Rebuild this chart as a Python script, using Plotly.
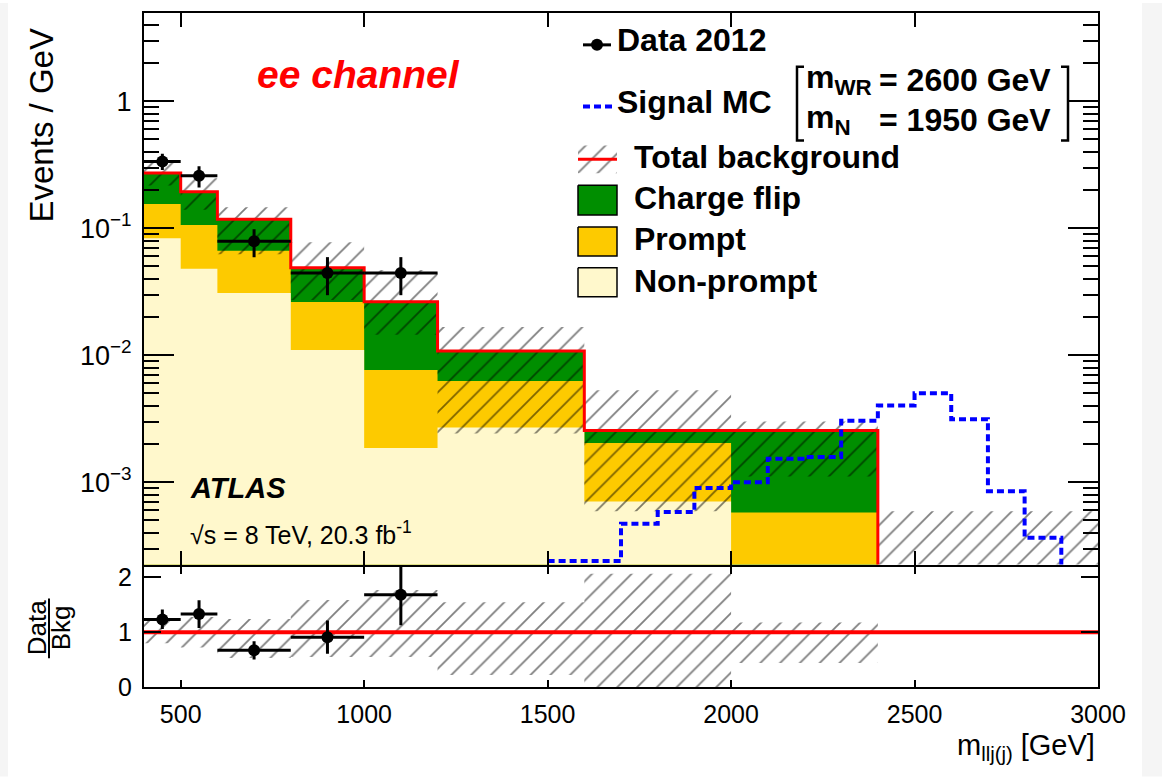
import plotly.graph_objects as go

# ---------------------------------------------------------------- data
# reconstructed-mass binning (GeV)
edges = [400, 500, 600, 800, 1000, 1200, 1600, 2000, 2400, 3000]

# background components, events / GeV
nonprompt = [0.0835, 0.0480, 0.0309, 0.0110, 0.00186, 0.00270, 0.000706, 0.0, 0.0]
prompt = [0.0716, 0.0581, 0.0355, 0.0153, 0.0058, 0.00357, 0.00133, 0.000579, 0.0]
charge_flip = [0.1165, 0.0879, 0.0513, 0.0225, 0.0187, 0.00451, 0.00052, 0.00198, 0.0]

# total-background uncertainty band (events / GeV)
bkg_band_lo = [0.217, 0.140, 0.0625, 0.0272, 0.0145, 0.00242, 0.000592, 0.00111, 0.0]
bkg_band_hi = [0.340, 0.248, 0.146, 0.0777, 0.0469, 0.0167, 0.00529, 0.00301, 0.000592]

# uncertainty band shown in the Data/Bkg panel
ratio_band_lo = [0.80, 0.72, 0.53, 0.55, 0.55, 0.22, 0.0, 0.44, None]
ratio_band_hi = [1.25, 1.28, 1.24, 1.59, 1.77, 1.55, 2.07, 1.18, None]

# observed data 2012
data_x = [450, 550, 700, 900, 1100]
data_xerr = [50, 50, 100, 100, 100]
data_y = [0.335, 0.259, 0.0791, 0.0444, 0.0444]
data_err_up = [0.050, 0.048, 0.019, 0.0148, 0.0148]
data_err_dn = [0.047, 0.050, 0.020, 0.0147, 0.0147]

# signal MC, m_WR = 2600 GeV, m_N = 1950 GeV (100 GeV bins)
signal_edges = [1500, 1600, 1700, 1800, 1900, 2000, 2100, 2200, 2300, 2400,
                2500, 2600, 2700, 2800, 2900, 3000]
signal = [2.4e-4, 2.4e-4, 4.71e-4, 5.82e-4, 9.02e-4, 1.0e-3, 1.53e-3, 1.58e-3,
          3.05e-3, 4.02e-3, 5.02e-3, 3.14e-3, 8.5e-4, 3.66e-4, 1.5e-4]

y_ticks = [1e-3, 1e-2, 1e-1, 1]
y_ticktext = ["10<sup>\u22123</sup>", "10<sup>\u22122</sup>", "10<sup>\u22121</sup>", "1"]
x_ticks = [500, 1000, 1500, 2000, 2500, 3000]

# ---------------------------------------------------------------- style
FONT = "Liberation Sans, Arial, Helvetica, sans-serif"
C_NONPROMPT = "#fff8cc"
C_PROMPT = "#fdca00"
C_CFLIP = "#008e00"
C_RED = "#ff0000"
C_BLUE = "#0000ff"
FLOOR = 1e-6

# canvas geometry (pixels)
W, H = 1162, 777
L, R, T, B = 144, 1098, 10, 687
SPLIT_TOP = 564     # bottom edge of the upper pad
SPLIT_BOT = 566     # top edge of the ratio pad (shares the frame line)
RATIO_PX_PER_UNIT = 55.0


def px(x):
    return (x - L) / (R - L)


def py(y):
    return (B - y) / (B - T)


n = len(edges) - 1
cum_np = [nonprompt[i] for i in range(n)]
cum_pr = [nonprompt[i] + prompt[i] for i in range(n)]
total = [nonprompt[i] + prompt[i] + charge_flip[i] for i in range(n)]


def step_area(levels):
    xs, ys = [], []
    for i, v in enumerate(levels):
        xs += [edges[i], edges[i + 1]]
        ys += [max(v, FLOOR), max(v, FLOOR)]
    xs += [edges[-1], edges[0], edges[0]]
    ys += [FLOOR, FLOOR, max(levels[0], FLOOR)]
    return xs, ys


def band_rects(lo, hi, floor):
    xs, ys = [], []
    for i in range(len(lo)):
        if hi[i] is None:
            continue
        a = max(lo[i], floor)
        b = hi[i]
        xs += [edges[i], edges[i + 1], edges[i + 1], edges[i], edges[i], None]
        ys += [a, a, b, b, a, None]
    return xs, ys


HATCH = dict(shape="/", fgcolor="#000000", bgcolor="rgba(0,0,0,0)",
             size=14, solidity=0.13, fillmode="overlay")
NOLINE = dict(width=0, color="rgba(0,0,0,0)")

fig = go.Figure()

# ---------------------------------------------------------------- main panel
for levels, col in [(total, C_CFLIP), (cum_pr, C_PROMPT), (cum_np, C_NONPROMPT)]:
    xs, ys = step_area(levels)
    fig.add_trace(go.Scatter(x=xs, y=ys, mode="lines", fill="toself", fillcolor=col,
                             line=NOLINE, hoverinfo="skip", showlegend=False,
                             xaxis="x", yaxis="y"))

xs, ys = band_rects(bkg_band_lo, bkg_band_hi, FLOOR)
fig.add_trace(go.Scatter(x=xs, y=ys, mode="lines", fill="toself",
                         fillcolor="rgba(0,0,0,0)", fillpattern=HATCH, line=NOLINE,
                         hoverinfo="skip", showlegend=False, xaxis="x", yaxis="y"))

# total background outline
last = max(i for i in range(n) if total[i] > 0)
tx = edges[:last + 2]
ty = total[:last + 1] + [FLOOR]
fig.add_trace(go.Scatter(x=tx, y=ty, mode="lines", line_shape="hv",
                         line=dict(color=C_RED, width=3), showlegend=False,
                         xaxis="x", yaxis="y"))

# signal
fig.add_trace(go.Scatter(x=signal_edges, y=signal + [signal[-1]], mode="lines",
                         line_shape="hv", line=dict(color=C_BLUE, width=4, dash="7px,4px"),
                         showlegend=False, xaxis="x", yaxis="y"))

# data
fig.add_trace(go.Scatter(
    x=data_x, y=data_y, mode="markers",
    marker=dict(color="black", size=12, symbol="circle"),
    error_y=dict(type="data", array=data_err_up, arrayminus=data_err_dn,
                 color="black", thickness=3, width=0),
    error_x=dict(type="data", array=data_xerr, color="black", thickness=3, width=0),
    showlegend=False, xaxis="x", yaxis="y"))

# ---------------------------------------------------------------- ratio panel
xs, ys = band_rects(ratio_band_lo, ratio_band_hi, 0.0)
fig.add_trace(go.Scatter(x=xs, y=ys, mode="lines", fill="toself",
                         fillcolor="rgba(0,0,0,0)", fillpattern=HATCH, line=NOLINE,
                         hoverinfo="skip", showlegend=False, xaxis="x2", yaxis="y2"))
fig.add_trace(go.Scatter(x=[edges[0], edges[-1]], y=[1, 1], mode="lines",
                         line=dict(color=C_RED, width=4), showlegend=False,
                         xaxis="x2", yaxis="y2"))


def bin_of(x):
    for i in range(n):
        if edges[i] <= x < edges[i + 1]:
            return i
    return n - 1


idx = [bin_of(x) for x in data_x]
r_y = [data_y[k] / total[i] for k, i in enumerate(idx)]
r_up = [data_err_up[k] / total[i] for k, i in enumerate(idx)]
r_dn = [data_err_dn[k] / total[i] for k, i in enumerate(idx)]
fig.add_trace(go.Scatter(
    x=data_x, y=r_y, mode="markers",
    marker=dict(color="black", size=12, symbol="circle"),
    error_y=dict(type="data", array=r_up, arrayminus=r_dn,
                 color="black", thickness=3, width=0),
    error_x=dict(type="data", array=data_xerr, color="black", thickness=3, width=0),
    showlegend=False, xaxis="x2", yaxis="y2"))

# ---------------------------------------------------------------- legend (pixel canvas)
def box(x0, x1, y0, y1):
    return [x0, x1, x1, x0, x0], [y0, y0, y1, y1, y0]


LX0, LX1 = 578, 617
fig.add_trace(go.Scatter(x=[597], y=[42], mode="markers",
                         marker=dict(color="black", size=12),
                         error_x=dict(type="constant", value=14, color="black",
                                      thickness=3, width=0),
                         showlegend=False, xaxis="x3", yaxis="y3"))
fig.add_trace(go.Scatter(x=[583, 612], y=[104, 104], mode="lines",
                         line=dict(color=C_BLUE, width=4, dash="7px,4px"),
                         showlegend=False, xaxis="x3", yaxis="y3"))
bx, by = box(LX0, LX1, 143, 171)
fig.add_trace(go.Scatter(x=bx, y=by, mode="lines", fill="toself",
                         fillcolor="rgba(0,0,0,0)", fillpattern=HATCH, line=NOLINE,
                         showlegend=False, xaxis="x3", yaxis="y3"))
fig.add_trace(go.Scatter(x=[LX0, LX1], y=[157, 157], mode="lines",
                         line=dict(color=C_RED, width=3),
                         showlegend=False, xaxis="x3", yaxis="y3"))
for (y0, y1), col in [((183, 213), C_CFLIP), ((225, 254), C_PROMPT), ((266, 295), C_NONPROMPT)]:
    bx, by = box(LX0, LX1, y0, y1)
    fig.add_trace(go.Scatter(x=bx, y=by, mode="lines", fill="toself", fillcolor=col,
                             line=dict(color="black", width=1.5),
                             showlegend=False, xaxis="x3", yaxis="y3"))

# ---------------------------------------------------------------- annotations
ann = []


def text(x, y, s, size, xanchor="left", color="black", angle=0):
    ann.append(dict(x=px(x), y=py(y), xref="paper", yref="paper", text=s,
                    showarrow=False, xanchor=xanchor, yanchor="middle",
                    textangle=angle, font=dict(family=FONT, size=size, color=color)))


LEG = 32
text(615, 37, "<b>Data 2012</b>", LEG)
text(615, 99, "<b>Signal MC</b>", LEG)
text(804, 77, "<b>m<sub>WR</sub></b>", LEG)
text(877, 77, "<b>= 2600 GeV</b>", LEG)
text(804, 117, "<b>m<sub>N</sub></b>", LEG)
text(877, 117, "<b>= 1950 GeV</b>", LEG)
text(632, 155, "<b>Total background</b>", LEG)
text(632, 196, "<b>Charge flip</b>", LEG)
text(632, 237, "<b>Prompt</b>", LEG)
text(632, 279, "<b>Non-prompt</b>", LEG)

text(255, 72, "<b><i>ee channel</i></b>", 39, color=C_RED)
text(188, 487, "<b><i>ATLAS</i></b>", 29)
text(188, 532, "\u221as = 8 TeV, 20.3 fb<sup>-1</sup>", 25)

text(41, 123, "Events / GeV", 33, xanchor="center", angle=-90)
text(37, 628, "Data", 26, xanchor="center", angle=-90)
text(61, 628, "Bkg", 26, xanchor="center", angle=-90)
text(1097, 747, "m<sub>llj(j)</sub> [GeV]", 29, xanchor="right")

shapes = [
    # fraction bar of the ratio title
    dict(type="line", xref="paper", yref="paper", x0=px(49), x1=px(49),
         y0=py(598), y1=py(658), line=dict(color="black", width=2)),
    # brackets around the signal mass point
    dict(type="path", xref="paper", yref="paper",
         path=f"M {px(804)} {py(64)} L {px(797)} {py(64)} L {px(797)} {py(138)} L {px(804)} {py(138)}",
         line=dict(color="black", width=2.5)),
    dict(type="path", xref="paper", yref="paper",
         path=f"M {px(1061)} {py(64)} L {px(1068)} {py(64)} L {px(1068)} {py(138)} L {px(1061)} {py(138)}",
         line=dict(color="black", width=2.5)),
    # light edge strips of the canvas
    dict(type="rect", xref="paper", yref="paper", layer="below",
         x0=px(0), x1=px(8), y0=py(H), y1=py(0), fillcolor="#f5f5f5", line_width=0),
    dict(type="rect", xref="paper", yref="paper", layer="below",
         x0=px(1142), x1=px(1162), y0=py(H), y1=py(0), fillcolor="#f5f5f5", line_width=0),
]

# ---------------------------------------------------------------- axes
axis_common = dict(showgrid=False, zeroline=False, showline=True, linecolor="black",
                   linewidth=2, mirror="ticks", ticks="inside", tickcolor="black",
                   tickwidth=1.5, tickfont=dict(family=FONT, size=25, color="black"))

minor_vals = [k * 10 ** e for e in range(-4, 1) for k in range(2, 10)]

yaxis_main = {**axis_common,
              "tickfont": dict(family=FONT, size=27, color="black"),
              "type": "log", "range": [-3.648, 0.6946],
              "domain": [py(SPLIT_TOP), 1], "anchor": "x",
              "tickvals": y_ticks, "ticktext": y_ticktext, "ticklen": 30,
              "ticklabelstandoff": 5,
              "minor": dict(tickvals=minor_vals, ticks="inside", ticklen=15,
                            tickwidth=1.5, tickcolor="black")}

fig.update_layout(
    width=W, height=H,
    margin=dict(l=L, r=W - R, t=T, b=H - B, pad=0),
    paper_bgcolor="white", plot_bgcolor="rgba(0,0,0,0)",
    showlegend=False,
    xaxis=dict(**axis_common, range=[edges[0], edges[-1]], domain=[0, 1],
               anchor="y", tickvals=x_ticks, showticklabels=False, ticklen=14),
    yaxis=yaxis_main,
    xaxis2=dict(**axis_common, range=[edges[0], edges[-1]], domain=[0, 1],
                anchor="y2", tickvals=x_ticks, ticklen=7, ticklabelstandoff=4),
    yaxis2=dict(**axis_common, range=[0, (B - SPLIT_BOT) / RATIO_PX_PER_UNIT],
                domain=[0, py(SPLIT_BOT)], anchor="x2",
                tickvals=[0, 1, 2], ticklen=17, ticklabelstandoff=5),
    xaxis3=dict(range=[L, R], domain=[0, 1], anchor="y3", visible=False,
                fixedrange=True),
    yaxis3=dict(range=[B, T], domain=[0, 1], anchor="x3", visible=False,
                fixedrange=True),
    annotations=ann,
    shapes=shapes,
)

fig.write_html("out.html")
